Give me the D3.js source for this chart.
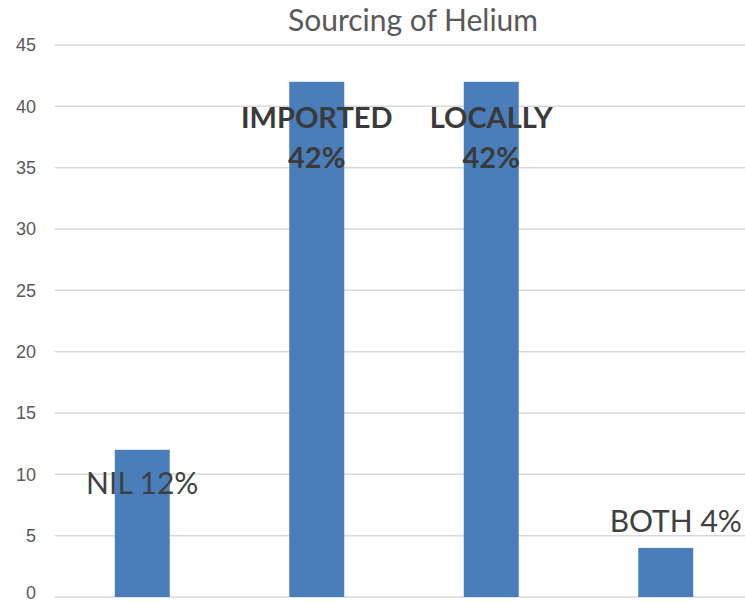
<!DOCTYPE html>
<html>
<head>
<meta charset="utf-8">
<script src="https://d3js.org/d3.v7.min.js"></script>
<style>
  body { margin: 0; background: #fff; }
  svg { display: block; font-family: Lato, "Open Sans", sans-serif; }
  .tick text { fill: #595959; font-size: 18px; }
</style>
</head>
<body>
<div id="container"></div>
<script>
// chart data
var categories = ["NIL", "IMPORTED", "LOCALLY", "BOTH"];
var values = [12, 42, 42, 4];
var labelLines = [["NIL 12%"], ["IMPORTED", "42%"], ["LOCALLY", "42%"], ["BOTH 4%"]];
var yTicks = [0, 5, 10, 15, 20, 25, 30, 35, 40, 45];

var width = 745, height = 603;
var margin = {left: 55, right: -8, top: 45, bottom: 6};

var svg = d3.select("#container").append("svg")
  .attr("width", width)
  .attr("height", height);

var x = d3.scaleBand()
  .domain(categories)
  .range([margin.left, width - margin.right])
  .paddingInner(0.685)
  .paddingOuter(0.3425);

var y = d3.scaleLinear()
  .domain([0, 45])
  .range([height - margin.bottom, margin.top]);

// gridlines
svg.append("g")
  .selectAll("line")
  .data(yTicks)
  .join("line")
  .attr("x1", margin.left)
  .attr("x2", width - margin.right)
  .attr("y1", d => y(d))
  .attr("y2", d => y(d))
  .attr("stroke", "#d9d9d9")
  .attr("stroke-width", 1.5);

// y axis labels
var yAxis = svg.append("g")
  .attr("transform", "translate(" + (margin.left - 19) + ",0)")
  .call(d3.axisLeft(y).tickValues(yTicks).tickSize(0).tickPadding(0));
yAxis.select(".domain").remove();
// keep the bottom label inside the frame
yAxis.selectAll(".tick text").attr("dy", d => d === 0 ? "0.1em" : "0.32em");

// bars
svg.append("g")
  .selectAll("rect")
  .data(values)
  .join("rect")
  .attr("x", (d, i) => x(categories[i]))
  .attr("width", x.bandwidth())
  .attr("y", d => y(d))
  .attr("height", d => y(0) - y(d))
  .attr("fill", "#4a7ebb");

// data labels
var labelG = svg.append("g");
labelLines.forEach(function(lines, i) {
  var cx = x(categories[i]) + x.bandwidth() / 2;
  var bold = lines.length > 1;
  var base;
  if (bold) base = y(values[i]) + 46;
  else if (values[i] > 8) base = y(values[i]) + 44;
  else { base = y(values[i]) - 16; cx += 10; }
  var t = labelG.append("text")
    .attr("text-anchor", "middle")
    .attr("font-size", bold ? "29px" : "30px")
    .attr("font-weight", bold ? "bold" : "normal")
    .attr("fill", bold ? "#3a3a3a" : "#404040");
  lines.forEach(function(s, j) {
    t.append("tspan")
      .attr("x", cx)
      .attr("y", base + j * 40)
      .text(s);
  });
});

// title
svg.append("text")
  .attr("x", 413)
  .attr("y", 31)
  .attr("text-anchor", "middle")
  .attr("font-size", "30px")
  .attr("fill", "#595959")
  .text("Sourcing of Helium");
</script>
</body>
</html>
